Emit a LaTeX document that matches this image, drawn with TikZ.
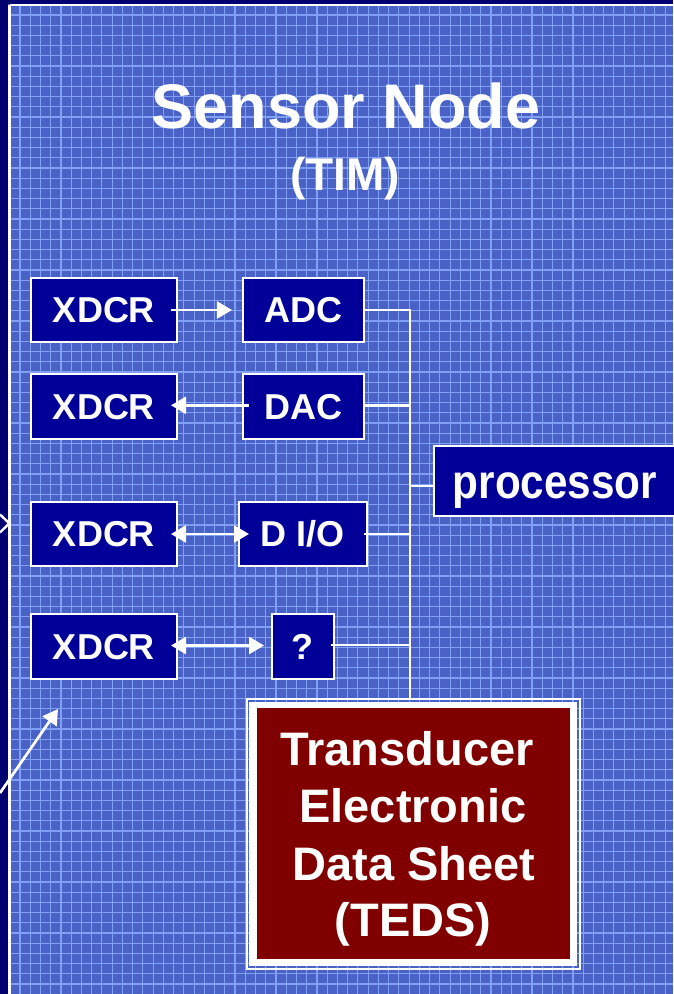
\documentclass[tikz,border=0pt]{standalone}
\usepackage{fontspec}
\setmainfont{Liberation Sans}
\usetikzlibrary{arrows.meta}
\definecolor{bgblue}{RGB}{74,98,198}
\definecolor{gridblue}{RGB}{128,160,245}
\definecolor{stripnavy}{RGB}{0,0,112}
\definecolor{boxblue}{RGB}{0,0,153}
\definecolor{tedsred}{RGB}{128,0,0}
\begin{document}
\begin{tikzpicture}[x=1pt,y=-1pt,
  box/.style={draw=white, line width=2.4pt, fill=boxblue, text=white, inner sep=0pt,
    font=\bfseries\fontsize{36}{36}\selectfont, text height=25.8pt, text depth=0pt},
  conn/.style={draw=white, line width=2.7pt},
  arr/.style={conn, -{Triangle[length=15pt,width=17pt]}},
  darr/.style={conn, {Triangle[length=15pt,width=17pt]}-{Triangle[length=15pt,width=17pt]}},
  gridline/.style={draw=gridblue, line width=1.1pt},
  tedstext/.style={text=white, inner sep=0pt, anchor=base, font=\bfseries\fontsize{47}{47}\selectfont},
  titletext/.style={text=white, inner sep=0pt, anchor=base}
]
\useasboundingbox (0,0) rectangle (673,994);
% background and grid
\fill[bgblue] (0,0) rectangle (673,994);
\foreach \k in {0,...,64} { \draw[gridline] ({20+10.24*\k},5) -- ({20+10.24*\k},994); }
\foreach \k in {0,...,96} { \draw[gridline] (9,{15+10.2*\k}) -- (673,{15+10.2*\k}); }
% frame strips
\fill[stripnavy] (0,0) rectangle (8.3,994);
\fill[stripnavy] (0,0) rectangle (673,3.6);
\draw[white, line width=2.2pt] (9.5,4.6) -- (9.5,994);
\draw[white, line width=1.8pt] (9.5,4.6) -- (673,4.6);
% title
\node[titletext, font=\bfseries\fontsize{63}{63}\selectfont] (title) at (346,128.3) {Sensor Node};
\node[titletext, font=\bfseries\fontsize{46}{46}\selectfont] (tim) at (345,190) {(TIM)};
% TEDS frame
\node[draw=white, line width=1.8pt, minimum width=333.2pt, minimum height=270.2pt, inner sep=0pt] (tedsout) at (413.2,833.7) {};
\node[fill=white, minimum width=327.7pt, minimum height=264.3pt, inner sep=0pt] (tedswhite) at (412.9,833.9) {};
\node[fill=tedsred, minimum width=313pt, minimum height=251pt, inner sep=0pt] (teds) at (413.5,833.8) {};
\node[tedstext] (t1) at (407,765) {Transducer};
\node[tedstext] (t2) at (413,822.7) {Electronic};
\node[tedstext] (t3) at (414,880) {Data Sheet};
\node[tedstext] (t4) at (413,936.7) {(TEDS)};
% blocks
\node[box, minimum width=145.6pt, minimum height=63.9pt] (x1) at (104,310) {XDCR};
\node[box, minimum width=145.6pt, minimum height=64.9pt] (x2) at (104,406.3) {XDCR};
\node[box, minimum width=145.6pt, minimum height=63.9pt] (x3) at (104,534) {XDCR};
\node[box, minimum width=145.6pt, minimum height=64.6pt] (x4) at (104,646.5) {XDCR};
\node[box, minimum width=120.9pt, minimum height=63.9pt] (adc) at (303.3,310) {ADC};
\node[box, minimum width=120.9pt, minimum height=64.9pt] (dac) at (303.3,406.3) {DAC};
\node[box, minimum width=127.6pt, minimum height=63.9pt] (dio) at (303,534) {D I/O};
\node[box, minimum width=61.9pt, minimum height=64.6pt] (q) at (302.8,646.5) {?};
\node[box, minimum width=241.9pt, minimum height=69.9pt, font=\bfseries\fontsize{48}{48}\selectfont, text height=34.4pt] (proc) at (554.9,481.2) {\scalebox{0.88}[1]{processor}};
% bus
\coordinate (bustop) at (410,310);
\coordinate (procin) at ([yshift=-4.8pt]proc.west);
\draw[conn] ([xshift=-2pt]adc.east) -- (bustop) -- (bustop |- tedsout.north);
\draw[conn] ([xshift=-2pt,yshift=1pt]dac.east) -- ([yshift=1pt]dac.east -| bustop);
\draw[conn] ([xshift=-4pt]dio.east) -- (dio.east -| bustop);
\draw[conn] ([xshift=-4pt,yshift=1.5pt]q.east) -- ([yshift=1.5pt]q.east -| bustop);
\draw[conn] (procin -| bustop) -- (procin);
% arrows between transducers and converters
\draw[arr] ([xshift=-7pt]x1.east) -- ([xshift=-9.7pt]adc.west);
\draw[arr] ([xshift=7.3pt,yshift=1pt]dac.west) -- ([xshift=-7pt,yshift=1pt]x2.east);
\draw[darr] ([xshift=-7pt]x3.east) -- ([xshift=11pt]dio.west);
\draw[darr] ([xshift=-7pt,yshift=1pt]x4.east) -- ([xshift=-6.6pt,yshift=1pt]q.west);
% external arrows at the left edge
\coordinate (chevtop) at (0,514.5);
\coordinate (chevtip) at (9.3,523.3);
\coordinate (chevbot) at (0,532.5);
\draw[white, line width=2.4pt] (chevtop) -- (chevtip) -- (chevbot);
\coordinate (extin) at (0,793);
\coordinate (diagtip) at (58,709);
\draw[arr] (extin) -- (diagtip);
\end{tikzpicture}
\end{document}
